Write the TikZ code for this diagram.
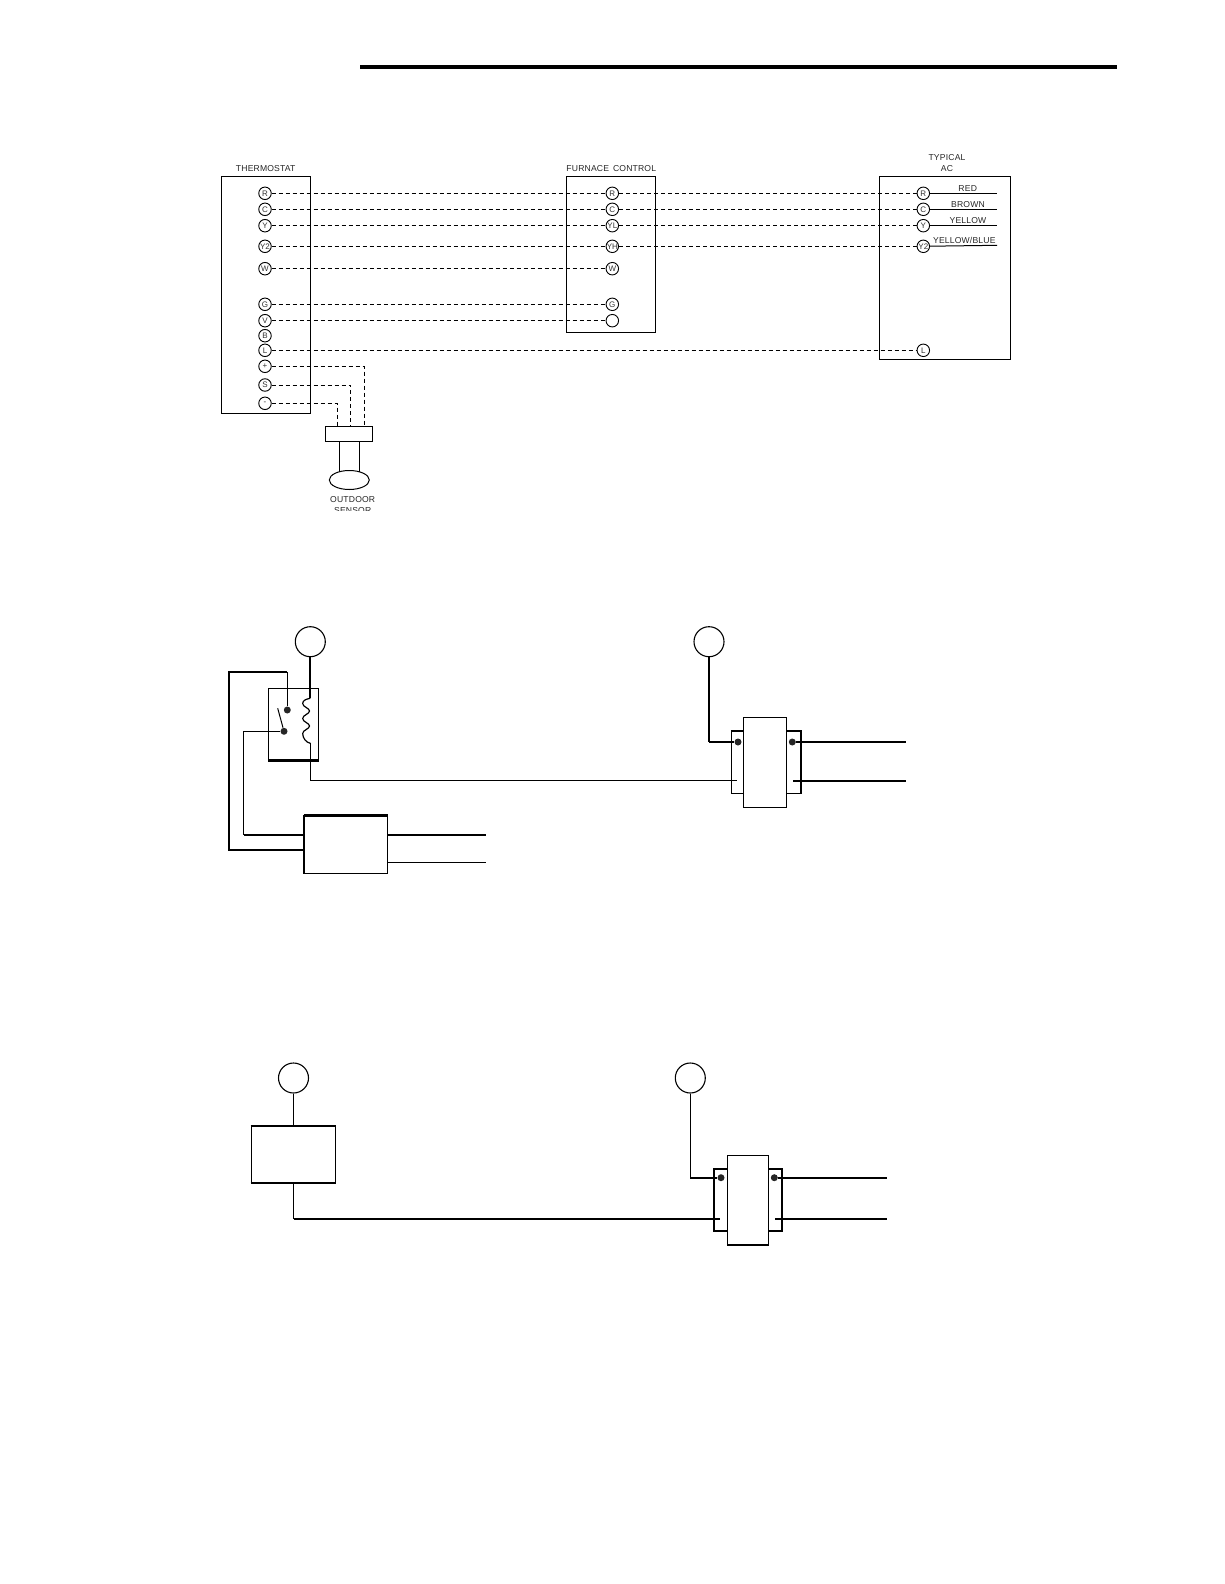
\documentclass[tikz,border=0pt]{standalone}
\usepackage{fontspec}
\setmainfont{Liberation Sans}
\newfontfamily\tagfont[LetterSpace=2]{Liberation Sans}
\usepackage{tikz}
\usetikzlibrary{shapes,arrows,positioning}

\tikzset{
	term/.style={shape=circle, draw, line width=0.9pt, inner sep=0pt, minimum size=12.5pt, fill=white, text=black!80, font=\fontsize{8}{9}\selectfont},
	lug/.style={shape=circle, fill=black!85, inner sep=0pt, minimum size=7pt},
	ring/.style={shape=circle, draw, line width=1.1pt, inner sep=0pt, minimum size=30pt},
	panel/.style={draw, line width=1pt, inner sep=0pt},
	block/.style={draw, line width=1.2pt, inner sep=0pt, fill=white},
	sig/.style={line width=0.8pt, dash pattern=on 4pt off 3pt},
	tag/.style={font=\tagfont\fontsize{8.6}{10}\selectfont, text=black!85, inner sep=0pt},
	thin wire/.style={line width=1.2pt},
	heavy wire/.style={line width=2pt},
	color wire/.style={line width=1pt}
}

\begin{document}
\begin{tikzpicture}[x=1pt,y=-1pt]
	\useasboundingbox (0,0) rectangle (1224,1584);
	\coordinate (ruleL) at (360,67);
	\coordinate (ruleR) at (1116.7,67);
	\draw[line width=4pt] (ruleL) -- (ruleR);

	\node[panel, minimum width=89pt, minimum height=237pt] (thermostat) at (265.8,294.8) {};
	\node[panel, minimum width=89pt, minimum height=155.7pt] (furnace) at (610.8,254.2) {};
	\node[panel, minimum width=131.4pt, minimum height=183pt] (ac) at (945,267.8) {};
	\node[tag] (thermostattag) at (265.7,169) {THERMOSTAT};
	\node[tag] (furnacetag) at (611.3,168.3) {FURNACE\, CONTROL};
	\node[tag] (actag1) at (947,158) {TYPICAL};
	\node[tag] (actag2) at (947,169) {AC};

	\node[term] (tr) at (265,193.3) {R};
	\node[term] (tc) at (265,209.3) {C};
	\node[term] (ty) at (265,225.7) {Y};
	\node[term] (ty2) at (265,246.3) {Y2};
	\node[term] (tw) at (265,268.7) {W};
	\node[term] (tg) at (265,304.3) {G};
	\node[term] (tv) at (265,320.7) {V};
	\node[term] (tb) at (265,335.7) {B};
	\node[term] (tl) at (265,350.3) {L};
	\node[term] (tp) at (265,366.3) {+};
	\node[term] (ts) at (265,385) {S};
	\node[term] (tm) at (265,403.3) {-};

	\node[term] (fr) at (612.3,193.3) {R};
	\node[term] (fc) at (612.3,209.3) {C};
	\node[term] (fyl) at (612.3,225.7) {YL};
	\node[term] (fyh) at (612.3,246.3) {YH};
	\node[term] (fw) at (612.3,268.7) {W};
	\node[term] (fg) at (612.3,304.3) {G};
	\node[term] (fv) at (612.3,320.7) {};

	\node[term] (ar) at (923.3,193.3) {R};
	\node[term] (ac1) at (923.3,209.3) {C};
	\node[term] (ay) at (923.3,225.7) {Y};
	\node[term] (ay2) at (923.3,246.3) {Y2};
	\node[term] (al) at (923.3,350.3) {L};

	\path [sig]
	(tr) edge (fr)
	(tc) edge (fc)
	(ty) edge (fyl)
	(ty2) edge (fyh)
	(tw) edge (fw)
	(tg) edge (fg)
	(tv) edge (fv)
	(fr) edge (ar)
	(fc) edge (ac1)
	(fyl) edge (ay)
	(fyh) edge (ay2)
	(tl) edge (al);

	\coordinate (redend) at (997,193.3);
	\coordinate (brownend) at (997,209.3);
	\coordinate (yellowend) at (997,225.7);
	\coordinate (blueend) at (997,245.3);
	\path [color wire]
	(ar) edge (redend)
	(ac1) edge (brownend)
	(ay) edge (yellowend)
	(ay2) edge (blueend);
	\node[tag] (redtag) at (967.7,188.3) {RED};
	\node[tag] (browntag) at (968,204.7) {BROWN};
	\node[tag] (yellowtag) at (968,221) {YELLOW};
	\node[tag] (bluetag) at (964.3,240) {YELLOW/BLUE};

	\node[panel, minimum width=47.4pt, minimum height=15.3pt] (plug) at (349,433.7) {};
	\coordinate (plugm) at (337.3,426);
	\coordinate (plugs) at (350.3,426);
	\coordinate (plugp) at (364.3,426);
	\draw[sig] (tm) -| (plugm);
	\draw[sig] (ts) -| (plugs);
	\draw[sig] (tp) -| (plugp);
	\node[draw, shape=ellipse, line width=1pt, inner sep=0pt, minimum width=40pt, minimum height=19pt] (sensor) at (349.3,480) {};
	\coordinate (stemL) at (339.3,441.3);
	\coordinate (stemR) at (359.7,441.3);
	\draw[line width=1pt] (stemL) -- (339.3,471.5);
	\draw[line width=1pt] (stemR) -- (359.7,471.5);
	\begin{scope}
		\clip (320,490) rectangle (400,510);
		\node[tag, align=center] (sensortag) at (352.7,505.5) {OUTDOOR\\[1pt]SENSOR};
	\end{scope}

	\node[ring] (ring1) at (310.3,641.7) {};
	\node[ring] (ring2) at (709,641.7) {};
	\node[draw, line width=1.4pt, inner sep=0pt, minimum width=49.6pt, minimum height=71.7pt] (relay) at (293.5,724.2) {};
	\draw[heavy wire] (relay.south west) -- (relay.south east);
	\node[block, minimum width=83.2pt, minimum height=57.3pt] (fan) at (346.1,844.7) {};
	\draw[heavy wire] (fan.north west) -- (fan.north east);
	\draw[heavy wire] (fan.north west) -- (fan.south west);

	\coordinate (coiltop) at (310.3,698.3);
	\coordinate (coilbot) at (310.3,743.3);
	\draw[heavy wire] (ring1) -- (coiltop);
	\draw[line width=1.2pt] (coiltop)
	.. controls (306,699) and (302.7,700.5) .. (302.7,703.5)
	.. controls (302.7,707) and (309.5,708) .. (309.5,711)
	.. controls (309.5,714) and (302.7,715) .. (302.7,718.5)
	.. controls (302.7,722) and (309.5,723) .. (309.5,726)
	.. controls (309.5,729) and (302.7,730) .. (302.7,733.5)
	.. controls (302.7,738) and (306,742.5) .. (coilbot);

	\node[lug] (contact1) at (287.3,710) {};
	\node[lug] (contact2) at (284,731.3) {};
	\coordinate (blade) at (277.7,708.3);
	\draw[line width=1pt] (contact2) -- (blade);
	\coordinate (loop1a) at (287.3,671.7);
	\coordinate (loop1b) at (228.7,671.7);
	\coordinate (loop1c) at (228.7,850);
	\coordinate (loop1d) at (304.5,850);
	\draw[thin wire] (contact1) -- (loop1a);
	\draw[heavy wire, line join=miter] (loop1a) -- (loop1b) -- (loop1c) -- (loop1d);
	\coordinate (loop2a) at (243.7,731.3);
	\coordinate (loop2b) at (243.7,835);
	\coordinate (loop2c) at (304.5,835);
	\draw[thin wire] (contact2) -- (loop2a) -- (loop2b);
	\draw[heavy wire] (loop2b) -- (loop2c);

	\coordinate (fanout1) at (387.7,835);
	\coordinate (fanend1) at (486,835);
	\coordinate (fanout2) at (387.7,862.3);
	\coordinate (fanend2) at (486,862.3);
	\draw[heavy wire] (fanout1) -- (fanend1);
	\draw[thin wire] (fanout2) -- (fanend2);

	\node[draw, line width=1pt, inner sep=0pt, minimum width=68.7pt, minimum height=61.6pt] (coreA) at (765.7,762.5) {};
	\draw[heavy wire] (coreA.north west) -- (coreA.north east) -- (coreA.south east);
	\node[block, line width=1.1pt, minimum width=43pt, minimum height=90pt] (xfmrA) at (764.8,762.3) {};
	\node[lug] (lugA1) at (738,742) {};
	\node[lug] (lugA2) at (792.3,742) {};
	\coordinate (cornerA) at (709,742);
	\draw[heavy wire] (ring2) -- (cornerA);
	\draw[thin wire] (cornerA) -- (lugA1);
	\coordinate (coilA) at (310.3,780.5);
	\coordinate (leadA) at (736.7,780.5);
	\draw[thin wire] (coilbot) -- (coilA) -- (leadA);
	\coordinate (lineA1) at (906,742);
	\coordinate (lineA2) at (906,780.5);
	\coordinate (startA2) at (793.3,780.5);
	\draw[heavy wire] (lugA2) -- (lineA1);
	\draw[heavy wire] (startA2) -- (lineA2);

	\node[ring] (ring3) at (293.5,1078) {};
	\node[ring] (ring4) at (690.3,1078) {};
	\node[block, minimum width=84.4pt, minimum height=56pt] (load) at (293.5,1154.7) {};
	\draw[heavy wire] (load.north west) -- (load.north east);
	\draw[heavy wire] (load.south west) -- (load.south east);
	\node[draw, line width=1.8pt, inner sep=0pt, minimum width=68.6pt, minimum height=62.3pt] (coreB) at (748,1199.8) {};
	\node[block, line width=1pt, minimum width=41.4pt, minimum height=88.7pt] (xfmrB) at (748,1199.7) {};
	\draw[heavy wire] (xfmrB.south west) -- (xfmrB.south east);
	\node[lug] (lugB1) at (721,1177.7) {};
	\node[lug] (lugB2) at (774.3,1177.7) {};
	\coordinate (cornerB) at (690.3,1177.7);
	\coordinate (cornerC) at (293.5,1218.7);
	\coordinate (leadB) at (720,1218.7);
	\coordinate (startB2) at (775,1218.7);
	\coordinate (lineB1) at (887,1177.7);
	\coordinate (lineB2) at (887,1218.7);
	\draw[thin wire] (ring3) -- (load);
	\draw[thin wire] (ring4) -- (cornerB);
	\draw[heavy wire] (cornerB) -- (lugB1);
	\draw[thin wire] (load.south) -- (cornerC);
	\draw[heavy wire] (cornerC) -- (leadB);
	\draw[heavy wire] (lugB2) -- (lineB1);
	\draw[heavy wire] (startB2) -- (lineB2);
\end{tikzpicture}
\end{document}
